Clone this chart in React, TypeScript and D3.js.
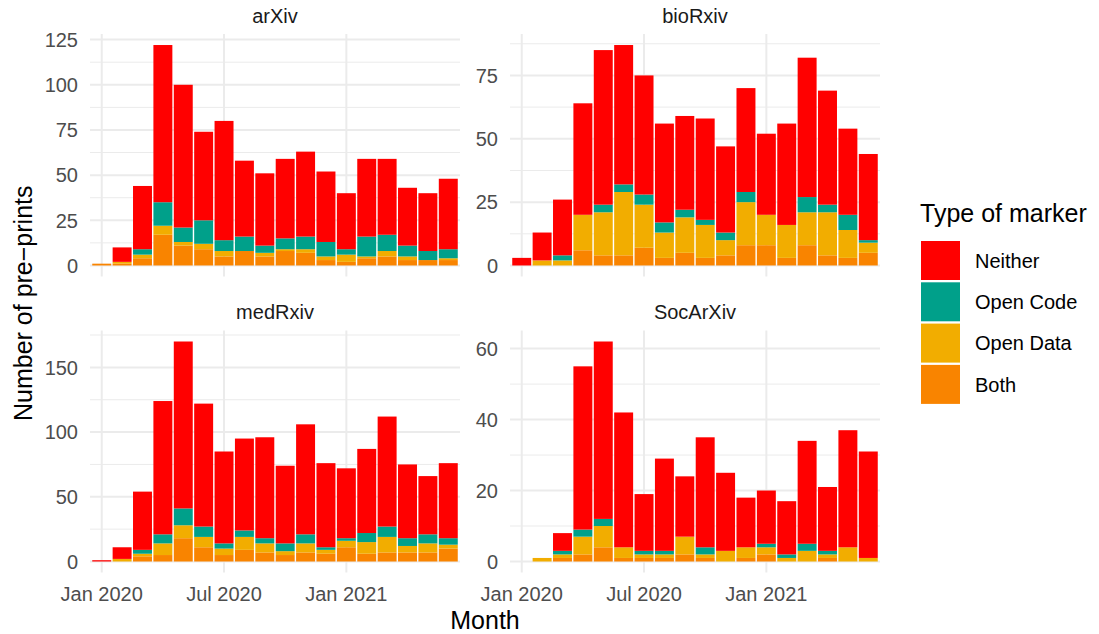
import * as d3 from 'd3'

// months Jan 2020 .. Jun 2021
const months: string[] = [
  '2020-01', '2020-02', '2020-03', '2020-04', '2020-05', '2020-06',
  '2020-07', '2020-08', '2020-09', '2020-10', '2020-11', '2020-12',
  '2021-01', '2021-02', '2021-03', '2021-04', '2021-05', '2021-06',
]

const markers = ['Neither', 'Open Code', 'Open Data', 'Both']
const colors = ['#FF0000', '#00A08A', '#F2AD00', '#F98400']

// arXiv
const arxivBoth = [1, 1, 4, 17, 11, 9, 5, 8, 5, 8, 7, 3, 2, 4, 5, 3, 3, 3]
const arxivData = [0, 1, 2, 5, 2, 3, 3, 0, 2, 1, 2, 2, 4, 1, 3, 2, 0, 1]
const arxivCode = [0, 0, 3, 13, 8, 13, 6, 8, 4, 6, 7, 8, 3, 11, 9, 6, 5, 5]
const arxivNeither = [0, 8, 35, 87, 79, 49, 66, 42, 40, 44, 47, 39, 31, 43, 42, 32, 32, 39]

// bioRxiv
const biorxivBoth = [0, 0, 0, 6, 4, 4, 7, 3, 5, 3, 4, 8, 8, 3, 8, 4, 3, 5]
const biorxivData = [0, 2, 2, 14, 17, 25, 17, 10, 14, 13, 6, 17, 12, 13, 13, 17, 11, 4]
const biorxivCode = [0, 0, 2, 0, 3, 3, 4, 4, 3, 2, 3, 4, 0, 0, 6, 3, 6, 1]
const biorxivNeither = [3, 11, 22, 44, 61, 55, 47, 39, 37, 40, 34, 41, 32, 40, 55, 45, 34, 34]

// medRxiv
const medrxivBoth = [0, 0, 4, 5, 18, 11, 5, 9, 7, 5, 7, 6, 11, 6, 7, 7, 7, 10]
const medrxivData = [0, 2, 2, 9, 10, 8, 5, 10, 7, 3, 7, 3, 5, 9, 12, 5, 7, 3]
const medrxivCode = [0, 0, 3, 7, 13, 8, 4, 5, 4, 6, 7, 2, 2, 7, 8, 6, 7, 5]
const medrxivNeither = [1, 9, 45, 103, 129, 95, 71, 71, 78, 60, 85, 65, 54, 65, 85, 57, 45, 58]

// SocArXiv
const socBoth = [0, 0, 1, 2, 4, 1, 1, 1, 2, 1, 0, 1, 2, 0, 0, 1, 0, 0]
const socData = [0, 1, 1, 5, 6, 3, 1, 1, 5, 1, 3, 3, 2, 1, 3, 1, 4, 1]
const socCode = [0, 0, 1, 2, 2, 0, 1, 1, 0, 2, 0, 0, 1, 1, 2, 1, 0, 0]
const socNeither = [0, 0, 5, 46, 50, 38, 16, 26, 17, 31, 22, 14, 15, 15, 29, 18, 33, 30]

const xTicks = ['2020-01', '2020-07', '2021-01']
const xTickLabels = ['Jan 2020', 'Jul 2020', 'Jan 2021']

const facets = [
  { name: 'arXiv', both: arxivBoth, data: arxivData, code: arxivCode, neither: arxivNeither, ticks: [0, 25, 50, 75, 100, 125], minor: [12.5, 37.5, 62.5, 87.5, 112.5] },
  { name: 'bioRxiv', both: biorxivBoth, data: biorxivData, code: biorxivCode, neither: biorxivNeither, ticks: [0, 25, 50, 75], minor: [12.5, 37.5, 62.5, 87.5] },
  { name: 'medRxiv', both: medrxivBoth, data: medrxivData, code: medrxivCode, neither: medrxivNeither, ticks: [0, 50, 100, 150], minor: [25, 75, 125, 175] },
  { name: 'SocArXiv', both: socBoth, data: socData, code: socCode, neither: socNeither, ticks: [0, 20, 40, 60], minor: [10, 30, 50] },
]

const W = 1099
const H = 634
const colX = [[90, 460], [510, 880]]
const rowY = [[34, 276.5], [330.5, 572.5]]
const font = '"Liberation Sans", Arial, Helvetica, sans-serif'
const grid = '#EBEBEB'

function Panel({ f, i }: { f: typeof facets[number]; i: number }) {
  const [x0, x1] = colX[i % 2]
  const [yTop, yBot] = rowY[Math.floor(i / 2)]
  // months are evenly spaced, one unit per month
  const x = d3.scaleLinear().domain([-0.575, months.length - 1 + 0.575]).range([x0, x1])
  const xm = (m: string) => x(months.indexOf(m))
  const rows = months.map((m, k) => ({
    month: m,
    Both: f.both[k], 'Open Data': f.data[k], 'Open Code': f.code[k], Neither: f.neither[k],
  }))
  const max = d3.max(rows, r => r.Both + r['Open Data'] + r['Open Code'] + r.Neither) as number
  const y = d3.scaleLinear().domain([-0.05 * max, 1.05 * max]).range([yBot, yTop])
  const stack = d3.stack<any>().keys(['Both', 'Open Data', 'Open Code', 'Neither'])
  const series = stack(rows)
  const bw = x(0.93) - x(0)
  const bottomRow = i >= 2

  return (
    <g>
      {f.minor.map(t => (
        <line key={'mi' + t} x1={x0} x2={x1} y1={y(t)} y2={y(t)} stroke={grid} strokeWidth={1} />
      ))}
      {f.ticks.map(t => (
        <line key={'ma' + t} x1={x0} x2={x1} y1={y(t)} y2={y(t)} stroke={grid} strokeWidth={2} />
      ))}
      {xTicks.map(t => (
        <line key={'vx' + t} x1={xm(t)} x2={xm(t)} y1={yTop} y2={yBot} stroke={grid} strokeWidth={2} />
      ))}
      {series.map(s => {
        const color = colors[markers.indexOf(s.key)]
        return (
          <g key={s.key} fill={color}>
            {s.map((d, k) => d[1] - d[0] > 0 ? (
              <rect key={k} x={xm(d.data.month) - bw / 2} width={bw}
                y={y(d[1])} height={y(d[0]) - y(d[1])} />
            ) : null)}
          </g>
        )
      })}
      {f.ticks.map(t => (
        <text key={'yl' + t} x={x0 - 12} y={y(t)} dy="0.36em" textAnchor="end"
          fontSize={20} fill="#4D4D4D">{t}</text>
      ))}
      {bottomRow && xTicks.map((t, k) => (
        <text key={'xl' + t} x={xm(t)} y={601} textAnchor="middle"
          fontSize={20} fill="#4D4D4D">{xTickLabels[k]}</text>
      ))}
      <text x={(x0 + x1) / 2} y={yTop - 11.5} textAnchor="middle" fontSize={20} fill="#1A1A1A">{f.name}</text>
    </g>
  )
}

export default function App() {
  return (
    <div style={{ position: 'absolute', left: 0, top: 0 }}>
      <svg width={W} height={H} style={{ fontFamily: font, display: 'block' }}>
        <rect width={W} height={H} fill="white" />
        {facets.map((f, i) => <Panel key={f.name} f={f} i={i} />)}
        <text x={485} y={629} textAnchor="middle" fontSize={25} fill="black">Month</text>
        <text transform={`translate(32,${(34 + 572.5) / 2}) rotate(-90)`} textAnchor="middle"
          fontSize={25} fill="black">Number of pre−prints</text>
        <text x={920} y={222} fontSize={25} fill="black">Type of marker</text>
        {markers.map((m, k) => (
          <g key={m} transform={`translate(921,${241 + k * 41.3})`}>
            <rect width={39} height={39} fill={colors[k]} />
            <text x={54} y={19.5} dy="0.36em" fontSize={20} fill="black">{m}</text>
          </g>
        ))}
      </svg>
    </div>
  )
}
